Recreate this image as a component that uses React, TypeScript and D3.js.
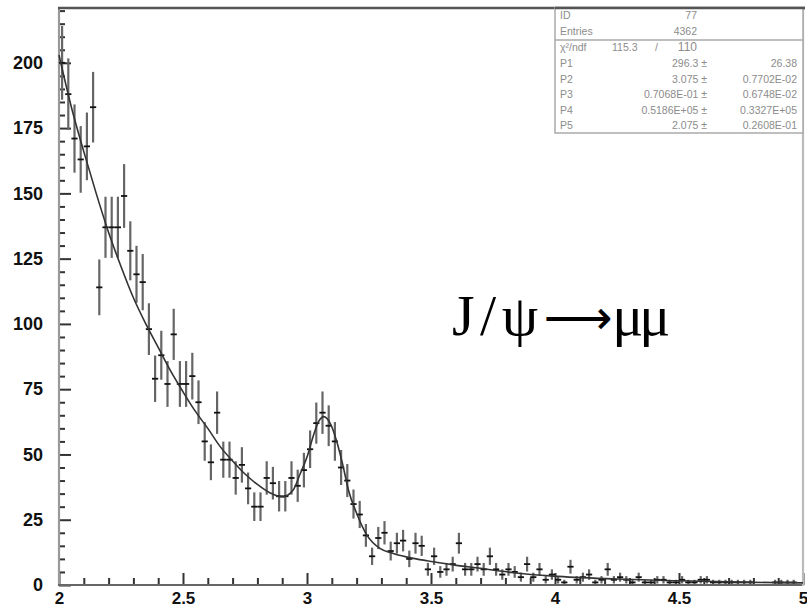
import React, { useEffect, useRef } from 'react';
import * as d3 from 'd3';

const W = 807;
const H = 610;

// histogram: 120 bins of 0.025 from 2.0 to 5.0
const binStart = 2.0;
const binWidth = 0.025;
const counts = [
  200, 188, 171, 163, 168, 183, 114, 137, 137, 137,
  149, 128, 119, 116, 98, 79, 88, 77, 96, 77,
  77, 80, 70, 55, 47, 66, 48, 48, 41, 46,
  37, 30, 30, 41, 39, 34, 34, 41, 38, 44,
  52, 62, 66, 61, 55, 45, 40, 31, 27, 19,
  11, 18, 20, 13, 16, 17, 10, 16, 15, 6,
  11, 5, 6, 8, 16, 6, 6, 8, 6, 11,
  6, 4, 6, 5, 3, 8, 3, 6, 2, 4,
  2, 1, 7, 2, 3, 4, 1, 2, 6, 2,
  3, 2, 1, 3, 1, 1, 2, 2, 1, 1,
  2, 1, 1, 2, 2, 1, 1, 1, 1, 1,
  1, 1, 0, 0, 0, 1, 1, 1, 1, 0,
];

// fitted curve
const fitX = [
  2.0, 2.05, 2.1, 2.15, 2.2, 2.25, 2.3, 2.35, 2.4, 2.45,
  2.5, 2.55, 2.6, 2.65, 2.7, 2.75, 2.8, 2.85, 2.9, 2.945,
  2.972, 3.0, 3.025, 3.046, 3.068, 3.093, 3.12, 3.146, 3.167, 3.2,
  3.241, 3.294, 3.348, 3.429, 3.509, 3.59, 3.698, 3.832, 3.993, 4.25,
  4.5, 4.75, 5.0,
];
const fitY = [
  203, 183, 166, 150, 135, 122, 110, 100, 91, 82,
  74, 66.5, 60, 53, 47.5, 42.5, 38.5, 35.3, 33.7, 36.5,
  42.5, 49, 57, 62.5, 64.5, 62, 55, 45.3, 36.4, 27.5,
  19.2, 14, 12.1, 10.2, 8.9, 7.7, 6.4, 4.7, 3.4, 2.3,
  1.6, 1.1, 0.8,
];

const xTickLabels = ['2', '2.5', '3', '3.5', '4', '4.5', '5'];
const yTickLabels = [0, 25, 50, 75, 100, 125, 150, 175, 200];

const statNames = ['ID', 'Entries'];
const statValues = ['77', '4362'];
const chi2 = ['115.3', '110'];
const parNames = ['P1', 'P2', 'P3', 'P4', 'P5'];
const parValues = ['296.3', '3.075', '0.7068E-01', '0.5186E+05', '2.075'];
const parErrors = ['26.38', '0.7702E-02', '0.6748E-02', '0.3327E+05', '0.2608E-01'];
const labelParts = ['J/\u03C8', '\u27F6', '\u03BC\u03BC'];

export default function App() {
  const ref = useRef<SVGSVGElement>(null);

  useEffect(() => {
    const svg = d3.select(ref.current);
    svg.selectAll('*').remove();

    const x = d3.scaleLinear().domain([2, 5]).range([59, 803]);
    const y = d3.scaleLinear().domain([0, 221]).range([585, 8]);

    svg.append('rect').attr('width', W).attr('height', H).attr('fill', '#fff');

    // y ticks (pointing into the plot)
    const yMinor = y.ticks(44).filter(v => v % 25 !== 0);
    const yMajor = y.ticks(44).filter(v => v % 25 === 0);
    const tickStyle = (g: any) => {
      g.select('.domain').remove();
      g.selectAll('line').attr('stroke', '#333').attr('stroke-width', 2);
      g.selectAll('text').remove();
    };
    svg.append('g').attr('transform', 'translate(59,0)')
      .call(d3.axisRight(y).tickValues(yMinor).tickSize(6)).call(tickStyle);
    svg.append('g').attr('transform', 'translate(59,0)')
      .call(d3.axisRight(y).tickValues(yMajor).tickSize(12)).call(tickStyle);

    // x ticks
    const xAll = x.ticks(30);
    const isMajor = (v: number) => Math.abs(v * 2 - Math.round(v * 2)) < 1e-6;
    svg.append('g').attr('transform', 'translate(0,585)')
      .call(d3.axisTop(x).tickValues(xAll.filter(v => !isMajor(v))).tickSize(7)).call(tickStyle);
    svg.append('g').attr('transform', 'translate(0,585)')
      .call(d3.axisTop(x).tickValues(xAll.filter(v => isMajor(v))).tickSize(12)).call(tickStyle);

    // tick labels
    const yl = svg.append('g').attr('transform', 'translate(59,0)')
      .call(d3.axisLeft(y).tickValues(yTickLabels).tickSize(0).tickPadding(16));
    yl.select('.domain').remove();
    yl.selectAll('text')
      .attr('font-family', 'Liberation Sans, Arial, sans-serif')
      .attr('font-size', 18).attr('font-weight', 'bold').attr('fill', '#111');

    const xVals = xTickLabels.map(Number);
    const xl = svg.append('g').attr('transform', 'translate(0,585)')
      .call(d3.axisBottom(x).tickValues(xVals).tickSize(0).tickPadding(7)
        .tickFormat((d, i) => xTickLabels[i]));
    xl.select('.domain').remove();
    xl.selectAll('text')
      .attr('font-family', 'Liberation Sans, Arial, sans-serif')
      .attr('font-size', 17).attr('font-weight', 'bold').attr('fill', '#111');

    // frame
    svg.append('line').attr('x1', 59).attr('x2', 59).attr('y1', 7).attr('y2', 586)
      .attr('stroke', '#999').attr('stroke-width', 2.2);
    svg.append('line').attr('x1', 58).attr('x2', 803).attr('y1', 585).attr('y2', 585)
      .attr('stroke', '#666').attr('stroke-width', 2);
    svg.append('line').attr('x1', 58).attr('x2', 805).attr('y1', 8).attr('y2', 8)
      .attr('stroke', '#555').attr('stroke-width', 2.4);
    svg.append('line').attr('x1', 803).attr('x2', 803).attr('y1', 8).attr('y2', 586)
      .attr('stroke', '#bbb').attr('stroke-width', 2.2);

    // histogram with error bars
    const bins = counts.map((c, i) => ({
      lo: binStart + i * binWidth,
      hi: binStart + (i + 1) * binWidth,
      c,
    })).filter(b => b.c > 0);

    const hg = svg.append('g');
    hg.selectAll('line.err').data(bins).join('line')
      .attr('class', 'err')
      .attr('x1', d => x((d.lo + d.hi) / 2)).attr('x2', d => x((d.lo + d.hi) / 2))
      .attr('y1', d => y(d.c - Math.sqrt(d.c))).attr('y2', d => y(d.c + Math.sqrt(d.c)))
      .attr('stroke', '#666').attr('stroke-width', 2.2);
    hg.selectAll('line.val').data(bins).join('line')
      .attr('class', 'val')
      .attr('x1', d => x(d.lo)).attr('x2', d => x(d.hi))
      .attr('y1', d => y(d.c)).attr('y2', d => y(d.c))
      .attr('stroke', '#111').attr('stroke-width', 1.8);

    // fit curve
    const line = d3.line<number>()
      .x((d, i) => x(fitX[i]))
      .y(d => y(d))
      .curve(d3.curveMonotoneX);
    svg.append('path').datum(fitY).attr('d', line)
      .attr('fill', 'none').attr('stroke', '#333').attr('stroke-width', 1.6);

    // stats box
    const box = svg.append('g')
      .attr('font-family', 'Liberation Sans, Arial, sans-serif')
      .attr('font-size', 10.5).attr('fill', '#8c8c8c');
    box.append('rect').attr('x', 555).attr('y', 8).attr('width', 248).attr('height', 125)
      .attr('fill', '#fff').attr('stroke', '#aaa').attr('stroke-width', 1.5);
    box.append('line').attr('x1', 555).attr('x2', 803).attr('y1', 40).attr('y2', 40)
      .attr('stroke', '#aaa').attr('stroke-width', 1.5);
    svg.append('line').attr('x1', 555).attr('x2', 805).attr('y1', 8).attr('y2', 8)
      .attr('stroke', '#555').attr('stroke-width', 2.4);
    statNames.forEach((n, i) => {
      const yy = 19 + i * 16;
      box.append('text').attr('x', 560).attr('y', yy).text(n);
      box.append('text').attr('x', 697).attr('y', yy).attr('text-anchor', 'end').text(statValues[i]);
    });
    box.append('text').attr('x', 560).attr('y', 51).text('\u03C7\u00B2/ndf');
    box.append('text').attr('x', 612).attr('y', 51).text(chi2[0]);
    box.append('text').attr('x', 655).attr('y', 51).text('/');
    box.append('text').attr('x', 697).attr('y', 51).attr('text-anchor', 'end').attr('font-size', 12).text(chi2[1]);
    parNames.forEach((n, i) => {
      const yy = 67 + i * 15.6;
      box.append('text').attr('x', 560).attr('y', yy).text(n);
      box.append('text').attr('x', 707).attr('y', yy).attr('text-anchor', 'end').text(parValues[i] + ' \u00B1');
      box.append('text').attr('x', 797).attr('y', yy).attr('text-anchor', 'end').text(parErrors[i]);
    });

    // label J/psi -> mu mu, one text element
    const lab = svg.append('text').attr('x', 452).attr('y', 335)
      .attr('font-family', 'Liberation Serif, DejaVu Serif, serif')
      .attr('font-size', 58).attr('fill', '#000');
    lab.append('tspan').attr('textLength', 86).attr('lengthAdjust', 'spacing')
      .text(labelParts[0]);
    lab.append('tspan').attr('font-family', 'DejaVu Sans, sans-serif')
      .attr('font-size', 48).attr('dy', -1).text(labelParts[1]);
    lab.append('tspan').attr('dy', 1).attr('textLength', 58).attr('lengthAdjust', 'spacing')
      .text(labelParts[2]);
  }, []);

  return (
    <svg
      ref={ref}
      width={W}
      height={H}
      style={{ position: 'absolute', left: 0, top: 0, display: 'block' }}
    />
  );
}
